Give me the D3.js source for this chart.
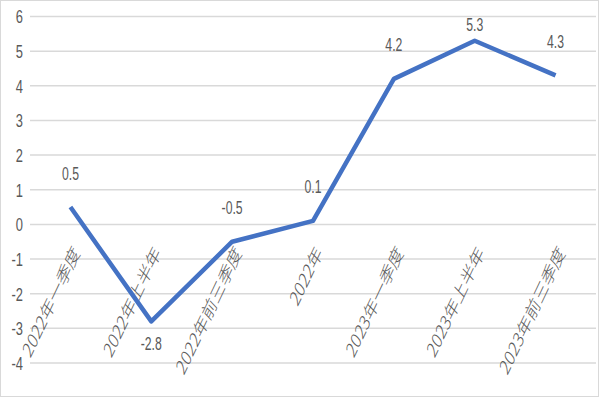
<!DOCTYPE html>
<html>
<head>
<meta charset="utf-8">
<script src="https://cdn.jsdelivr.net/npm/d3@7"></script>
<style>
  html, body { margin: 0; padding: 0; background: #fff; }
  text { font-family: "Liberation Sans", Arial, "Noto Sans CJK SC", sans-serif; fill: #595959; }
  .cat { font-family: "Noto Sans CJK SC", sans-serif; font-weight: 300; }
</style>
</head>
<body>
<div class="d3"></div>
<script>
let categories = ['2022年一季度', '2022年上半年', '2022年前三季度', '2022年',
  '2023年一季度', '2023年上半年', '2023年前三季度'];
let values = [0.5, -2.8, -0.5, 0.1, 4.2, 5.3, 4.3];
let yTicks = [6, 5, 4, 3, 2, 1, 0, -1, -2, -3, -4];

let width = 600;
let height = 400;
let sx = 0.68; // narrow text look

let svg = d3.select('.d3').append('svg')
  .attr('width', width)
  .attr('height', height);

svg.append('rect')
  .attr('x', 0.5).attr('y', 0.5)
  .attr('width', 598).attr('height', 396)
  .attr('fill', '#fff')
  .attr('stroke', '#d9d9d9');

let x = d3.scaleBand().domain(categories).range([30, 596]);
let y = d3.scaleLinear().domain([-4, 6]).range([363, 16.5]);

// gridlines
svg.append('g')
  .selectAll('line')
  .data(yTicks)
  .enter()
  .append('line')
  .attr('x1', 30).attr('x2', 596)
  .attr('y1', d => y(d)).attr('y2', d => y(d))
  .attr('stroke', '#d9d9d9')
  .attr('stroke-width', 1.5);

// y tick labels
svg.append('g')
  .selectAll('text')
  .data(yTicks)
  .enter()
  .append('text')
  .attr('transform', d => `translate(23,${y(d)}) scale(${sx},1)`)
  .attr('dy', '0.36em')
  .attr('text-anchor', 'end')
  .attr('font-size', 19)
  .text(d => d);

// category labels
svg.append('g')
  .selectAll('text')
  .data(categories)
  .enter()
  .append('text')
  .attr('class', 'cat')
  .attr('transform', d => `translate(${x(d) + x.bandwidth() / 2 + 6},249) scale(${sx},1) rotate(-55)`)
  .attr('dy', '0.35em')
  .attr('text-anchor', 'end')
  .attr('font-size', 21)
  .text(d => d);

// line
let line = d3.line()
  .x((d, i) => x(categories[i]) + x.bandwidth() / 2)
  .y(d => y(d));

svg.append('path')
  .datum(values)
  .attr('fill', 'none')
  .attr('stroke', '#4472C4')
  .attr('stroke-width', 4.5)
  .attr('stroke-linejoin', 'round')
  .attr('d', line);

// data labels
let minV = d3.min(values);
svg.append('g')
  .selectAll('text')
  .data(values)
  .enter()
  .append('text')
  .attr('transform', (d, i) => {
    let cx = x(categories[i]) + x.bandwidth() / 2;
    let ly = d === minV ? y(d) + 22 : Math.max(y(d) - 34, 25);
    return `translate(${cx},${ly}) scale(${sx},1)`;
  })
  .attr('dy', '0.36em')
  .attr('text-anchor', 'middle')
  .attr('font-size', 18)
  .text(d => d);
</script>
</body>
</html>
